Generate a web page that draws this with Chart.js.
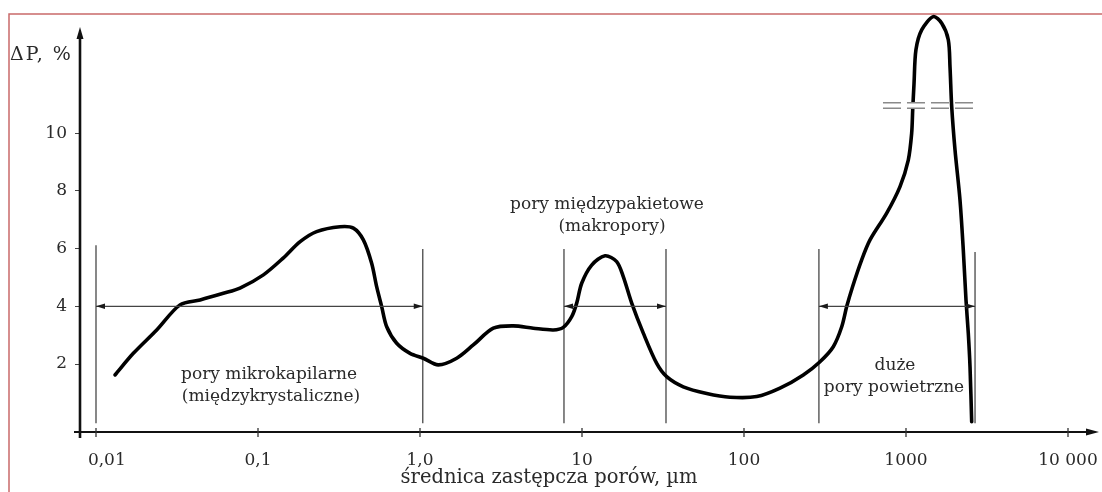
<!DOCTYPE html>
<html><head><meta charset="utf-8">
<script src="https://cdn.jsdelivr.net/npm/chart.js@4.4.1/dist/chart.umd.min.js"></script>
<style>html,body{margin:0;padding:0;background:#fff;overflow:hidden}canvas{display:block}</style>
</head><body>
<canvas id="c" width="1102" height="492"></canvas>
<script>
// pore diameter (µm) and ΔP (%)
const poreDiameter = [0.0131,0.0170,0.0237,0.0330,0.0439,0.0611,0.0774,0.108,0.143,0.182,0.230,0.321,0.388,0.447,0.503,0.540,0.580,0.623,0.718,0.868,1.048,1.297,1.685,2.133,2.835,3.766,5.005,6.65,7.665,8.638,9.276,9.957,11.48,13.87,16.37,17.98,20.27,23.9,28.92,33.32,42.2,58.86,81.95,119.8,166.8,232.3,294.5,355.8,401.1,430.5,468,532.7,599.6,760.2,918.4,1033,1084,1100,1121,1152,1250,1474,1661,1824,1869,1915,2007,2154,2258,2346,2424,2484,2544];
const deltaP = [1.62,2.37,3.18,4.05,4.22,4.45,4.63,5.09,5.67,6.24,6.59,6.76,6.71,6.30,5.49,4.68,3.99,3.29,2.72,2.37,2.20,1.97,2.20,2.66,3.24,3.32,3.24,3.18,3.27,3.64,4.11,4.80,5.43,5.75,5.55,5.03,4.11,3.07,2.02,1.56,1.21,0.98,0.85,0.87,1.16,1.62,2.08,2.60,3.29,3.99,4.68,5.61,6.30,7.23,8.15,9.07,10.0,10.81,11.73,12.89,13.58,14.04,13.81,13.24,12.31,10.92,9.42,7.69,5.95,4.22,3.07,1.91,0];

const xTickValues = [0.01,0.1,1,10,100,1000,10000];
const xTickLabels = ['0,01','0,1','1,0','10','100','1000','10 000'];
const yTickValues = [2,4,6,8,10];
const yTickLabels = ['2','4','6','8','10'];

// pore class boundaries
const boundaryDiameters = [0.01,1.04,7.74,33.0,290,2668];
const boundaryTop = [6.12,5.99,5.99,5.99,5.99,5.88];
const boundaryBottom = -0.05;
const ranges = [[0.01,1.04],[7.74,33.0],[290,2668]];
const rangeLevel = 4;
// axis break
const breakLevel = 10.96;
const breakFrom = 721, breakTo = 2630;

const axisTitleY = 'ΔP, %';
const axisTitleX = 'średnica zastępcza porów, µm';
const regionLabels = [
  {lines:['pory mikrokapilarne','(międzykrystaliczne)'], cx:[269,271], cy:[375,397]},
  {lines:['pory międzypakietowe','(makropory)'], cx:[607,612], cy:[205,227]},
  {lines:['duże','pory powietrzne'], cx:[895,894], cy:[366,388]}
];

const xMin = 0.007966, xMax = 13672;
const yMin = -0.357, yMax = 14.34;

const FONT = '"DejaVu Serif", serif';
const TXT = '#2a2a2a';

const boundaryPts = [];
boundaryDiameters.forEach((b,i)=>{
  boundaryPts.push({x:b,y:boundaryTop[i]},{x:b,y:boundaryBottom},{x:b,y:null});
});

function arrowHead(c,x,y,dir){
  c.beginPath(); c.moveTo(x,y); c.lineTo(x-dir*9,y-2.8); c.lineTo(x-dir*9,y+2.8); c.closePath(); c.fill();
}

const decor = {
  id:'decor',
  beforeDraw(chart){
    const c = chart.ctx; c.save();
    c.fillStyle='#fff'; c.fillRect(0,0,chart.width,chart.height);
    c.strokeStyle='#c96a6a'; c.lineWidth=1.5;
    c.beginPath(); c.moveTo(9,chart.height); c.lineTo(9,14); c.lineTo(chart.width,14); c.stroke();
    c.restore();
  },
  afterDatasetsDraw(chart){
    const c = chart.ctx, x = chart.scales.x, y = chart.scales.y;
    c.save();
    c.strokeStyle='#444'; c.fillStyle='#1a1a1a'; c.lineWidth=1.2;
    ranges.forEach(([s,e])=>{
      const x1=x.getPixelForValue(s), x2=x.getPixelForValue(e), yy=y.getPixelForValue(rangeLevel);
      c.beginPath(); c.moveTo(x1,yy); c.lineTo(x2,yy); c.stroke();
      arrowHead(c,x1,yy,-1); arrowHead(c,x2,yy,1);
    });
    const by=y.getPixelForValue(breakLevel), bx1=x.getPixelForValue(breakFrom), bx2=x.getPixelForValue(breakTo);
    c.setLineDash([18,6]);
    c.strokeStyle='#fff'; c.lineWidth=5.6;
    c.beginPath(); c.moveTo(bx1,by); c.lineTo(bx2,by); c.stroke();
    c.strokeStyle='#8a8a8a'; c.lineWidth=1.4;
    [-2.8,2.8].forEach(d=>{ c.beginPath(); c.moveTo(bx1,by+d); c.lineTo(bx2,by+d); c.stroke(); });
    c.setLineDash([]);
    c.restore();
  },
  afterDraw(chart){
    const c = chart.ctx, a = chart.chartArea, x = chart.scales.x;
    c.save();
    c.strokeStyle='#111'; c.fillStyle='#111';
    c.lineWidth=2.6;
    c.beginPath(); c.moveTo(a.left,a.bottom+6); c.lineTo(a.left,36); c.stroke();
    c.beginPath(); c.moveTo(a.left,27); c.lineTo(a.left-3.5,39); c.lineTo(a.left+3.5,39); c.closePath(); c.fill();
    c.lineWidth=2;
    c.beginPath(); c.moveTo(a.left-6,a.bottom); c.lineTo(1090,a.bottom); c.stroke();
    c.beginPath(); c.moveTo(1099,a.bottom); c.lineTo(1086,a.bottom-3.6); c.lineTo(1086,a.bottom+3.6); c.closePath(); c.fill();
    c.lineWidth=1.3; c.strokeStyle='#333';
    xTickValues.forEach(v=>{ const px=x.getPixelForValue(v); c.beginPath(); c.moveTo(px,a.bottom-4); c.lineTo(px,a.bottom+5); c.stroke(); });
    c.fillStyle=TXT; c.textBaseline='middle';
    c.font='19px '+FONT; c.textAlign='left';
    try { c.letterSpacing='2px'; } catch(e) {}
    c.fillText(axisTitleY,10,55);
    try { c.letterSpacing='0px'; } catch(e) {}
    c.textAlign='center';
    c.font='19.5px '+FONT;
    c.fillText(axisTitleX,549,478);
    c.font='17px '+FONT;
    regionLabels.forEach(r=>r.lines.forEach((t,i)=>c.fillText(t,r.cx[i],r.cy[i])));
    c.restore();
  }
};

new Chart(document.getElementById('c'),{
  type:'scatter',
  data:{datasets:[
    {data:poreDiameter.map((v,i)=>({x:v,y:deltaP[i]})), showLine:true, borderColor:'#000', borderWidth:3.6, pointRadius:0, tension:0.3, borderCapStyle:'round', borderJoinStyle:'round'},
    {data:boundaryPts, showLine:true, spanGaps:false, borderColor:'#555', borderWidth:1.4, pointRadius:0, tension:0}
  ]},
  options:{
    responsive:false, animation:false, devicePixelRatio:1,
    layout:{padding:{left:0,right:12,top:8,bottom:0}},
    plugins:{legend:{display:false}, tooltip:{enabled:false}},
    scales:{
      x:{type:'logarithmic', position:'bottom', min:xMin, max:xMax,
        grid:{display:false}, border:{display:false},
        ticks:{autoSkip:false, maxRotation:0, padding:10, color:TXT, font:{family:FONT,size:17},
          callback:(v,i)=>(i===0?'    ':'')+xTickLabels[i]},
        afterBuildTicks:s=>{ s.ticks = xTickValues.map(v=>({value:v})); },
        afterFit:s=>{ s.height = 60; s.paddingLeft=0; s.paddingRight=0; }
      },
      y:{type:'linear', position:'left', min:yMin, max:yMax,
        grid:{display:true, drawOnChartArea:false, drawTicks:true, tickLength:5, color:'#444', lineWidth:1},
        border:{display:false},
        ticks:{padding:8, color:TXT, font:{family:FONT,size:17}, callback:(v,i)=>yTickLabels[i]},
        afterBuildTicks:s=>{ s.ticks = yTickValues.map(v=>({value:v})); },
        afterFit:s=>{ s.width = 80; s.paddingTop=0; s.paddingBottom=0; }
      }
    }
  },
  plugins:[decor]
});
</script>
</body></html>
